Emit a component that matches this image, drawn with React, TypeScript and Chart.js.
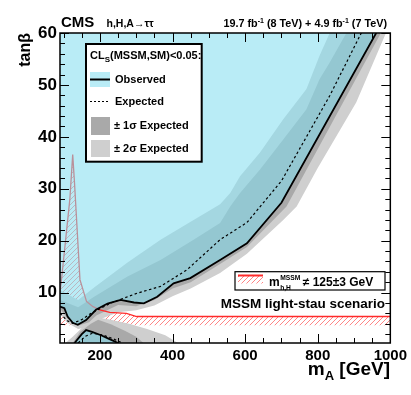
import React, { useEffect, useRef } from "react";
import { Chart, registerables } from "chart.js";

Chart.register(...registerables);

type Pt = [number, number];

const X_MIN = 90;
const X_MAX = 1000;
const Y_MIN = 0.3;
const Y_MAX = 60;
const xTickLabels = [200, 400, 600, 800, 1000];
const yTickLabels = [10, 20, 30, 40, 50, 60];

// Observed exclusion contour (upper, high tan beta region)
const observedUpper: Pt[] = [
  [90, 7.3], [102, 7.0], [111, 5.4], [125, 4.2], [139, 3.8], [162, 4.7], [189, 6.7],
  [221, 7.9], [257, 8.6], [294, 8.1], [321, 7.95], [358, 9.2], [403, 11.8], [449, 12.8],
  [531, 16.3], [605, 19.5], [700, 27.3], [961, 60], [1000, 65],
];
// Expected (median) contour
const expectedUpper: Pt[] = [
  [90, 6.0], [110, 4.6], [125, 4.1], [150, 4.8], [175, 6.0], [230, 8.0], [303, 9.9],
  [367, 11.2], [440, 14.4], [531, 20.2], [605, 23.5], [700, 31.5], [833, 47.9], [920, 60], [1000, 70],
];
// +-1 sigma band edges
const oneSigmaHigh: Pt[] = [
  [90, 8.6], [140, 7.2], [184, 9.2], [276, 13.1], [367, 16.3], [458, 20.2], [531, 23.4],
  [559, 26.6], [586, 29.2], [641, 33.7], [705, 39.5], [769, 45.3], [805, 51.1], [833, 54.3],
  [879, 60], [1000, 75],
];
const oneSigmaLow: Pt[] = [
  [90, 7.0], [110, 5.0], [140, 3.6], [170, 4.3], [190, 5.6], [250, 7.6], [300, 7.4],
  [350, 8.6], [400, 10.8], [450, 12.0], [531, 15.5], [605, 18.8], [714, 26.6], [974, 60], [1000, 64],
];
// +-2 sigma band edges
const twoSigmaHigh: Pt[] = [
  [90, 10.5], [140, 8.6], [184, 11.0], [276, 15.8], [367, 20.2], [458, 24.0], [531, 27.0],
  [559, 29.2], [586, 32.4], [641, 37.0], [705, 43.4], [769, 49.2], [805, 55.6], [833, 60], [1000, 75],
];
const twoSigmaLow: Pt[] = [
  [90, 6.0], [110, 4.2], [140, 3.0], [170, 3.4], [190, 4.6], [250, 6.2], [300, 6.6],
  [350, 7.5], [400, 9.3], [450, 10.8], [531, 13.8], [605, 17.5], [705, 24.0], [742, 26.6],
  [800, 34], [906, 46.6], [988, 60], [1000, 62],
];
// Low tan beta exclusion
const observedLower: Pt[] = [
  [130, 0.3], [150, 2.0], [162, 2.8], [180, 2.4], [203, 1.8], [225, 1.1], [250, 0.3],
];
const expectedLower: Pt[] = [
  [140, 0.3], [160, 1.6], [180, 2.2], [210, 1.8], [240, 1.0], [262, 0.3],
];
const lowOneSigma: Pt[] = [
  [125, 0.3], [145, 2.4], [175, 4.0], [195, 4.8], [230, 3.9], [270, 2.6], [300, 1.5], [320, 0.3],
];
const lowTwoSigma: Pt[] = [
  [105, 0.3], [125, 1.5], [150, 3.2], [175, 4.5], [195, 5.2], [230, 4.8], [280, 4.0],
  [330, 3.0], [380, 1.8], [415, 0.3],
];
// m_h,H != 125 +- 3 GeV region
const mhBoundary: Pt[] = [
  [90, 10.0], [95, 13.1], [117, 27.9], [125, 36.6], [130, 31.1], [145, 12.5], [163, 8.3],
  [181, 7.3], [200, 6.7], [227, 6.2], [273, 6.0], [301, 5.4], [1000, 5.4],
];
const mhBandBottom: Pt[] = [[90, 3.7], [1000, 3.7]];

const FONT = '"Liberation Sans", Arial, Helvetica, sans-serif';
const f = (size: number, weight = "bold") => `${weight} ${size}px ${FONT}`;

const CYAN_FILL = "rgba(132,222,239,0.57)";
const CYAN_SWATCH = "#b9ecf6";
const GREY1 = "#a9a9a9";
const GREY2 = "#cfcfcf";
const RED = "#ff2a2a";

function makeHatch(): CanvasPattern | string {
  const c = document.createElement("canvas");
  c.width = 5;
  c.height = 5;
  const g = c.getContext("2d");
  if (!g) return "rgba(255,0,0,0.3)";
  g.strokeStyle = "rgba(255,60,60,0.7)";
  g.lineWidth = 0.9;
  g.beginPath();
  g.moveTo(-1, 6); g.lineTo(6, -1);
  g.moveTo(-1, 1); g.lineTo(1, -1);
  g.moveTo(4, 6); g.lineTo(6, 4);
  g.stroke();
  return g.createPattern(c, "repeat") || "rgba(255,0,0,0.3)";
}

type Part = { t: string; size: number; dy?: number };
function drawParts(ctx: CanvasRenderingContext2D, parts: Part[], x: number, y: number, align: "left" | "right") {
  let total = 0;
  for (const p of parts) { ctx.font = f(p.size); total += ctx.measureText(p.t).width; }
  let cx = align === "right" ? x - total : x;
  ctx.textAlign = "left";
  ctx.textBaseline = "alphabetic";
  for (const p of parts) {
    ctx.font = f(p.size);
    ctx.fillText(p.t, cx, y + (p.dy || 0));
    cx += ctx.measureText(p.t).width;
  }
}

export default function App() {
  const ref = useRef<HTMLCanvasElement | null>(null);

  useEffect(() => {
    document.body.style.margin = "0";
    const canvas = ref.current;
    if (!canvas) return;
    const hatch = makeHatch();
    const pts = (a: Pt[]) => a.map(([x, y]) => ({ x, y }));
    const ds = (data: Pt[], o: any) => ({
      data: pts(data), pointRadius: 0, pointHoverRadius: 0, tension: 0, clip: 0,
      borderWidth: 0, borderColor: "rgba(0,0,0,0)", backgroundColor: "rgba(0,0,0,0)", fill: false, ...o,
    });

    const datasets = [
      ds(mhBandBottom, { order: 100 }),                                            // 0
      ds(mhBoundary, { order: 95, fill: 0, backgroundColor: hatch }),              // 1
      ds(lowTwoSigma, { order: 90, fill: "start", backgroundColor: GREY2 }),       // 2
      ds(twoSigmaLow, { order: 89 }),                                              // 3
      ds(twoSigmaHigh, { order: 88, fill: 3, backgroundColor: GREY2 }),            // 4
      ds(lowOneSigma, { order: 80, fill: "start", backgroundColor: GREY1 }),       // 5
      ds(oneSigmaLow, { order: 79 }),                                              // 6
      ds(oneSigmaHigh, { order: 78, fill: 6, backgroundColor: GREY1 }),            // 7
      ds(mhBoundary, { order: 60, borderColor: RED, borderWidth: 1.3 }),           // 8
      ds(observedLower, { order: 50, fill: "start", backgroundColor: CYAN_FILL, borderColor: "#000", borderWidth: 1.8 }), // 9
      ds(observedUpper, { order: 49, fill: "end", backgroundColor: CYAN_FILL, borderColor: "#000", borderWidth: 1.8 }),   // 10
      ds(expectedUpper, { order: 40, borderColor: "#000", borderWidth: 1.2, borderDash: [2.5, 2.5] }), // 11
      ds(expectedLower, { order: 39, borderColor: "#000", borderWidth: 1.2, borderDash: [2.5, 2.5] }), // 12
    ];

    const decorations = {
      id: "decorations",
      afterDraw(chart: any) {
        const ctx: CanvasRenderingContext2D = chart.ctx;
        const { left, right, top, bottom } = chart.chartArea;
        const xs = chart.scales.x;
        const ys = chart.scales.y;
        ctx.save();
        // frame
        ctx.strokeStyle = "#000";
        ctx.lineWidth = 1.5;
        ctx.strokeRect(left, top, right - left, bottom - top);
        // inward ticks
        ctx.lineWidth = 1;
        ctx.beginPath();
        for (let v = 100; v <= X_MAX; v += 50) {
          const px = Math.round(xs.getPixelForValue(v)) + 0.5;
          const len = v % 200 === 0 ? 9 : 5;
          ctx.moveTo(px, bottom); ctx.lineTo(px, bottom - len);
          ctx.moveTo(px, top); ctx.lineTo(px, top + len);
        }
        for (let v = 2; v <= Y_MAX; v += 2) {
          const py = Math.round(ys.getPixelForValue(v)) + 0.5;
          const len = v % 10 === 0 ? 9 : 5;
          ctx.moveTo(left, py); ctx.lineTo(left + len, py);
          ctx.moveTo(right, py); ctx.lineTo(right - len, py);
        }
        ctx.stroke();

        ctx.fillStyle = "#000";
        // header
        ctx.textAlign = "left";
        ctx.textBaseline = "alphabetic";
        ctx.font = f(15);
        ctx.fillText("CMS", 61, 27);
        ctx.font = f(10.5);
        ctx.fillText("h,H,A\u2192\u03c4\u03c4", 106.5, 27);
        drawParts(ctx, [
          { t: "19.7 fb", size: 10.8 }, { t: "-1", size: 7, dy: -4.5 },
          { t: " (8 TeV) + 4.9 fb", size: 10.8 }, { t: "-1", size: 7, dy: -4.5 },
          { t: " (7 TeV)", size: 10.8 },
        ], 387, 27, "right");

        // axis titles
        drawParts(ctx, [{ t: "m", size: 19 }, { t: "A", size: 13, dy: 5 }, { t: " [GeV]", size: 19 }], 390, 375, "right");
        ctx.save();
        ctx.translate(30, 33);
        ctx.rotate(-Math.PI / 2);
        ctx.textAlign = "right";
        ctx.font = f(16);
        ctx.fillText("tan\u03b2", 0, 0);
        ctx.restore();

        // main legend
        ctx.fillStyle = "#fff";
        ctx.fillRect(86, 44, 115.7, 117.7);
        ctx.strokeStyle = "#000";
        ctx.lineWidth = 2;
        ctx.strokeRect(86, 44, 115.7, 117.7);
        ctx.fillStyle = "#000";
        drawParts(ctx, [{ t: "CL", size: 11 }, { t: "S", size: 8, dy: 3 }, { t: "(MSSM,SM)<0.05:", size: 11 }], 90, 59, "left");
        ctx.fillStyle = CYAN_SWATCH;
        ctx.fillRect(90, 72, 20, 15);
        ctx.strokeStyle = "#000";
        ctx.lineWidth = 2;
        ctx.beginPath(); ctx.moveTo(90, 79.5); ctx.lineTo(110, 79.5); ctx.stroke();
        ctx.lineWidth = 1.2;
        ctx.setLineDash([2, 2]);
        ctx.beginPath(); ctx.moveTo(90, 101.5); ctx.lineTo(110, 101.5); ctx.stroke();
        ctx.setLineDash([]);
        ctx.fillStyle = GREY1;
        ctx.fillRect(91, 117, 19, 18);
        ctx.fillStyle = GREY2;
        ctx.fillRect(91, 140, 19, 17);
        ctx.fillStyle = "#000";
        ctx.textBaseline = "middle";
        ctx.font = f(11);
        ctx.fillText("Observed", 115, 79.5);
        ctx.fillText("Expected", 115, 101.5);
        ctx.fillText("\u00b1 1\u03c3 Expected", 114, 126);
        ctx.fillText("\u00b1 2\u03c3 Expected", 114, 148.5);
        ctx.textBaseline = "alphabetic";

        // mh legend
        ctx.fillStyle = "#fff";
        ctx.fillRect(235, 271.7, 150, 18.3);
        ctx.strokeStyle = "#000";
        ctx.lineWidth = 1.2;
        ctx.strokeRect(235, 271.7, 150, 18.3);
        ctx.fillStyle = hatch as any;
        ctx.fillRect(238, 276, 25, 7.5);
        ctx.strokeStyle = RED;
        ctx.lineWidth = 2;
        ctx.beginPath(); ctx.moveTo(238, 275.5); ctx.lineTo(263, 275.5); ctx.stroke();
        ctx.fillStyle = "#000";
        ctx.font = f(12);
        ctx.fillText("m", 269, 286);
        const mw = ctx.measureText("m").width;
        ctx.font = f(6.7);
        ctx.fillText("MSSM", 269 + mw + 0.5, 280);
        const sw = ctx.measureText("MSSM").width;
        ctx.fillText("h,H", 269 + mw + 0.5, 289.5);
        ctx.font = f(12);
        ctx.fillText("\u2260 125\u00b13 GeV", 269 + mw + sw + 3, 286);

        ctx.font = f(13.5);
        ctx.textAlign = "right";
        ctx.fillText("MSSM light-stau scenario", 385, 308);
        ctx.restore();
      },
    };

    const chart = new Chart(canvas, {
      type: "line",
      data: { datasets } as any,
      options: {
        animation: false,
        responsive: false,
        devicePixelRatio: 1,
        events: [],
        layout: { padding: { left: 0, right: 20, top: 33, bottom: 0 } },
        plugins: { legend: { display: false }, tooltip: { enabled: false }, title: { display: false } },
        scales: {
          x: {
            type: "linear", min: X_MIN, max: X_MAX,
            grid: { display: false, drawTicks: false }, border: { display: false },
            afterBuildTicks: (s: any) => { s.ticks = xTickLabels.map((v) => ({ value: v })); },
            afterFit: (s: any) => { s.height = 52; },
            ticks: {
              autoSkip: false, maxRotation: 0, padding: 4, color: "#000",
              font: { family: FONT, weight: "bold", size: 15 },
              callback: (v: any) => String(v),
            },
          },
          y: {
            type: "linear", min: Y_MIN, max: Y_MAX,
            grid: { display: false, drawTicks: false }, border: { display: false },
            afterBuildTicks: (s: any) => { s.ticks = yTickLabels.map((v) => ({ value: v })); },
            afterFit: (s: any) => { s.width = 60; },
            ticks: {
              autoSkip: false, padding: 3, color: "#000",
              font: { family: FONT, weight: "bold", size: 17 },
              callback: (v: any) => String(v),
            },
          },
        },
      } as any,
      plugins: [decorations],
    });
    return () => chart.destroy();
  }, []);

  return <canvas ref={ref} width={411} height={395} style={{ display: "block", width: 411, height: 395 }} />;
}
